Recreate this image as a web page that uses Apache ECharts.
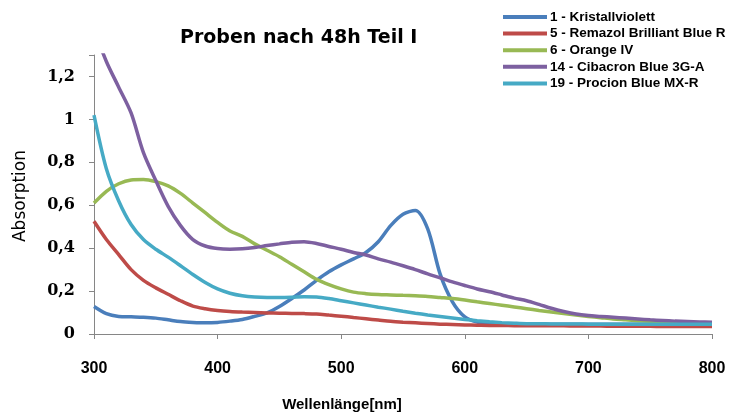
<!DOCTYPE html>
<html><head><meta charset="utf-8">
<script src="https://cdn.jsdelivr.net/npm/echarts@6/dist/echarts.min.js"></script>
<style>html,body{margin:0;padding:0;background:#fff}#c{width:729px;height:420px}</style>
</head><body><div id="c"></div>
<script>
const wavelengths = [300,310,320,330,340,350,360,370,380,390,400,410,420,430,440,450,460,470,480,490,500,510,520,530,540,550,560,570,580,590,600,610,620,630,640,650,660,670,680,690,700,710,720,730,740,750,760,770,780,790,800];
const seriesNames = ['1 - Kristallviolett','5 - Remazol Brilliant Blue R','6 - Orange IV','14 - Cibacron Blue 3G-A','19 - Procion Blue MX-R'];
const kristallviolett = [0.128,0.095,0.082,0.080,0.078,0.074,0.066,0.058,0.054,0.052,0.054,0.060,0.068,0.082,0.098,0.128,0.165,0.205,0.250,0.290,0.322,0.350,0.380,0.430,0.505,0.558,0.576,0.49,0.28,0.150,0.080,0.056,0.049,0.047,0.046,0.046,0.045,0.045,0.045,0.045,0.045,0.045,0.045,0.045,0.045,0.045,0.045,0.045,0.045,0.045,0.045];
const remazol = [0.525,0.44,0.37,0.30,0.25,0.215,0.185,0.155,0.13,0.118,0.11,0.105,0.102,0.100,0.098,0.097,0.096,0.095,0.093,0.088,0.083,0.077,0.071,0.065,0.059,0.055,0.052,0.049,0.046,0.044,0.042,0.041,0.040,0.040,0.039,0.039,0.038,0.038,0.038,0.037,0.037,0.037,0.036,0.036,0.036,0.036,0.035,0.035,0.035,0.035,0.035];
const orangeIV = [0.61,0.665,0.70,0.718,0.72,0.71,0.69,0.655,0.61,0.565,0.52,0.48,0.455,0.42,0.39,0.36,0.325,0.29,0.255,0.23,0.21,0.195,0.188,0.184,0.182,0.18,0.178,0.175,0.17,0.165,0.158,0.15,0.142,0.134,0.126,0.118,0.11,0.103,0.096,0.089,0.082,0.076,0.07,0.066,0.062,0.059,0.057,0.055,0.053,0.051,0.05];
const cibacron = [1.42,1.27,1.15,1.03,0.845,0.715,0.595,0.505,0.44,0.41,0.398,0.395,0.397,0.403,0.412,0.42,0.428,0.43,0.422,0.408,0.395,0.38,0.368,0.35,0.335,0.318,0.3,0.28,0.262,0.243,0.226,0.21,0.197,0.182,0.167,0.155,0.138,0.12,0.105,0.093,0.086,0.082,0.078,0.074,0.07,0.066,0.063,0.06,0.058,0.056,0.055];
const procion = [1.02,0.77,0.62,0.51,0.44,0.395,0.358,0.318,0.277,0.24,0.21,0.19,0.178,0.172,0.17,0.17,0.171,0.173,0.172,0.165,0.155,0.145,0.135,0.125,0.116,0.106,0.097,0.089,0.082,0.075,0.068,0.062,0.057,0.053,0.05,0.048,0.048,0.047,0.047,0.047,0.046,0.046,0.046,0.046,0.046,0.045,0.045,0.045,0.045,0.045,0.045];
const xTicks = [300,400,500,600,700,800];
const yTicks = [0,0.2,0.4,0.6,0.8,1.0,1.2];
const colors = ['#4A7EBB','#BE4B48','#98B954','#7D60A0','#46AAC5'];
const allValues = [kristallviolett, remazol, orangeIV, cibacron, procion];

const chart = echarts.init(document.getElementById('c'), null, {renderer:'canvas'});
chart.setOption({
  animation:false,
  title:{text:'Proben nach 48h Teil I', left:175, top:24, textStyle:{fontSize:19, fontWeight:'bold', fontFamily:'DejaVu Sans', color:'#000'}},
  legend:{
    orient:'vertical', left:498, top:5, itemWidth:44, itemHeight:4, itemGap:2.6, icon:'rect',
    textStyle:{fontSize:13.5, lineHeight:14, fontWeight:'bold', fontFamily:'Liberation Sans, Arial, sans-serif', color:'#000', padding:[0,0,0,-2]},
    data:seriesNames
  },
  grid:{left:94, right:17, top:55, bottom:86, containLabel:false},
  xAxis:{
    type:'value', min:300, max:800, interval:100,
    axisLine:{lineStyle:{color:'#868686', width:1}},
    axisTick:{show:true, length:5, lineStyle:{color:'#868686'}},
    splitLine:{show:false},
    axisLabel:{margin:27, fontSize:16, fontFamily:'Liberation Sans, Arial, sans-serif', fontWeight:'bold', color:'#000',
      formatter:v=>xTicks.includes(v)?String(v):''}
  },
  yAxis:{
    type:'value', min:0, max:1.3, interval:0.2,
    axisLine:{show:true, lineStyle:{color:'#868686', width:1}},
    axisTick:{show:true, length:5, lineStyle:{color:'#868686'}},
    splitLine:{show:false},
    axisLabel:{margin:19, fontSize:16, fontFamily:'DejaVu Serif', fontWeight:'bold', color:'#000',
      formatter:v=>{const t=yTicks.find(k=>Math.abs(k-v)<1e-6); return t===undefined?'':String(+t.toFixed(1)).replace('.',',');}}
  },
  graphic:[
    {type:'text', x:21, y:196, rotation:Math.PI/2, style:{text:'Absorption', fill:'#000', font:'17px DejaVu Sans', textAlign:'center', textVerticalAlign:'middle'}},
    {type:'text', x:342, y:405, style:{text:'Wellenlänge[nm]', fill:'#000', font:'bold 15px Liberation Sans, Arial, sans-serif', textAlign:'center', textVerticalAlign:'middle'}}
  ],
  series: seriesNames.map((n,i)=>({
    name:n, type:'line', symbol:'none', smooth:0.3, clip:true,
    lineStyle:{width:3.5, color:colors[i]}, itemStyle:{color:colors[i]},
    data: wavelengths.map((w,j)=>[w, allValues[i][j]])
  }))
});
</script></body></html>
